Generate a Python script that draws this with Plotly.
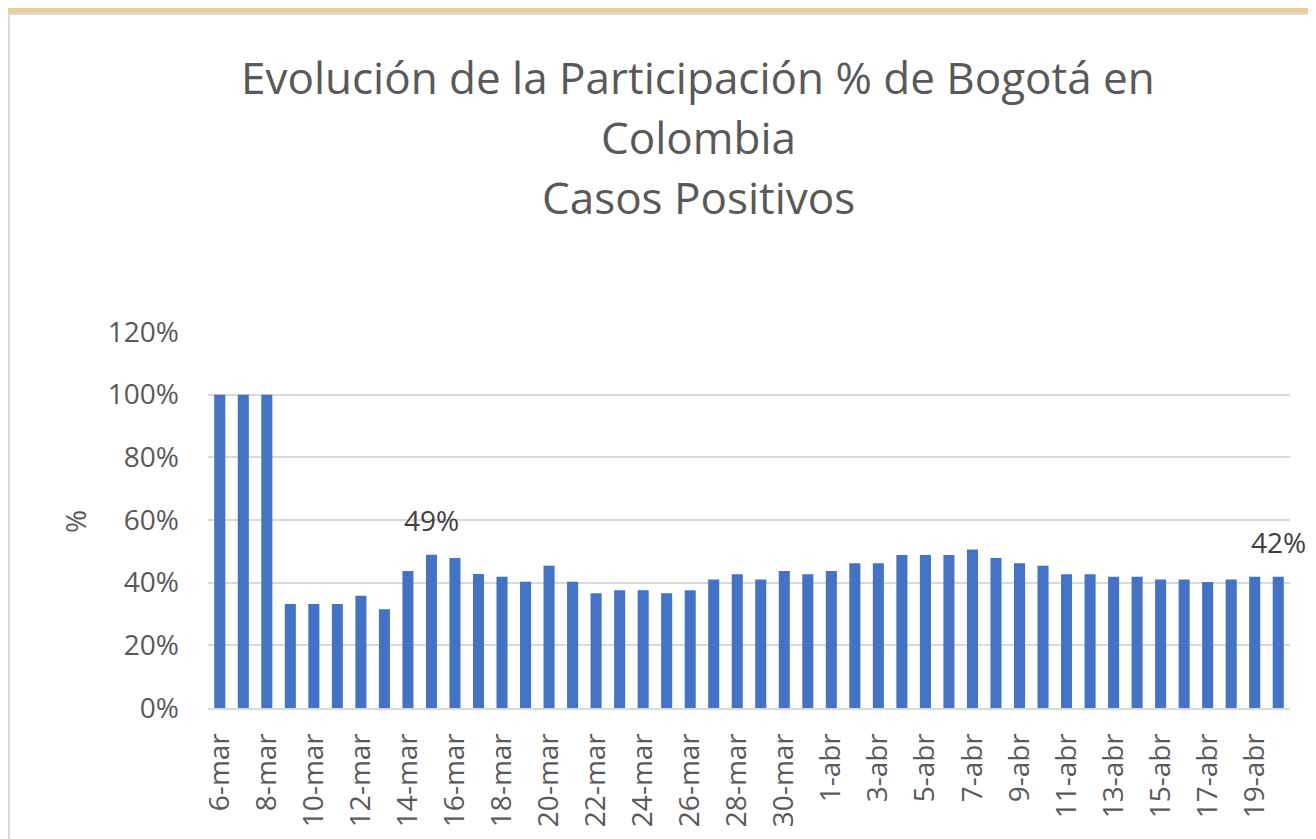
import plotly.graph_objects as go

# ---- data ----
categories = [f"{d}-mar" for d in range(6, 32)] + [f"{d}-abr" for d in range(1, 21)]
values = [1.00, 1.00, 1.00, 0.332, 0.332, 0.332, 0.358, 0.315, 0.437, 0.489,
          0.479, 0.428, 0.419, 0.403, 0.454, 0.403, 0.366, 0.376, 0.376, 0.366,
          0.376, 0.410, 0.427, 0.410, 0.437, 0.427, 0.437, 0.462, 0.462, 0.488,
          0.488, 0.488, 0.506, 0.479, 0.462, 0.454, 0.427, 0.427, 0.419, 0.419,
          0.410, 0.410, 0.402, 0.410, 0.419, 0.419]
tick_labels = categories[::2]
y_ticks = [0, 0.2, 0.4, 0.6, 0.8, 1.0, 1.2]
y_tick_text = ["0%", "20%", "40%", "60%", "80%", "100%", "120%"]
labeled = {"15-mar": "49%", "20-abr": "42%"}
title_lines = ["Evolución de la Participación % de Bogotá en", "Colombia", "Casos Positivos"]

# page has an 8px body margin; work in page coordinates and subtract it
OFF = 8
W, H = 1316 - OFF, 839 - OFF
PL, PR, PT, PB = 208, 1290, 332, 708  # plot area in page pixels
L, T = PL - OFF, PT - OFF
R, B = W - (PR - OFF), H - (PB - OFF)
pw, ph = W - L - R, H - T - B


def px_to_paper_x(px):
    return (px - PL) / pw


def px_to_paper_y(py):
    return (PB - py) / ph


FONT = "Open Sans"

fig = go.Figure()
fig.add_trace(go.Bar(x=categories, y=values, marker=dict(color="#4472C4", line=dict(width=0)),
                     hoverinfo="x+y"))

annotations = []
for cat, txt in labeled.items():
    annotations.append(dict(x=cat, y=values[categories.index(cat)], xref="x", yref="y",
                            text=txt, showarrow=False, yanchor="middle", yshift=35,
                            font=dict(family=FONT, size=28, color="#404040")))

title_y = [77, 137, 197]
for line, py in zip(title_lines, title_y):
    annotations.append(dict(x=px_to_paper_x(698), y=px_to_paper_y(py), xref="paper", yref="paper",
                            text=line, showarrow=False, xanchor="center", yanchor="middle",
                            font=dict(family=FONT, size=44, color="#595959")))

annotations.append(dict(x=px_to_paper_x(75), y=px_to_paper_y(522), xref="paper", yref="paper",
                        text="%", showarrow=False, textangle=-90, xanchor="center", yanchor="middle",
                        font=dict(family=FONT, size=28, color="#595959")))

shapes = [dict(type="rect", xref="paper", yref="paper", layer="below",
               x0=px_to_paper_x(9), x1=px_to_paper_x(1330),
               y0=px_to_paper_y(860), y1=px_to_paper_y(14),
               fillcolor="white", line=dict(color="#D9D9D9", width=2))]

fig.update_layout(
    width=W, height=H,
    margin=dict(l=L, r=R, t=T, b=B),
    paper_bgcolor="#E9CF95",
    plot_bgcolor="rgba(0,0,0,0)",
    bargap=0.53,
    showlegend=False,
    annotations=annotations,
    shapes=shapes,
    xaxis=dict(type="category", tickmode="array", tickvals=tick_labels, ticktext=tick_labels,
               tickangle=-90, tickfont=dict(family=FONT, size=28, color="#595959"),
               showline=True, linecolor="#D9D9D9", linewidth=2, showgrid=False,
               ticks="", ticklabelstandoff=12, range=[-0.5, len(categories) - 0.5]),
    yaxis=dict(range=[0, 1.2], tickmode="array", tickvals=y_ticks, ticktext=y_tick_text,
               tickfont=dict(family=FONT, size=28, color="#595959"),
               showgrid=True, gridcolor="#D9D9D9", gridwidth=2, zeroline=False,
               ticks="", ticklabelstandoff=28, showline=False),
)

fig.write_html("out.html")
